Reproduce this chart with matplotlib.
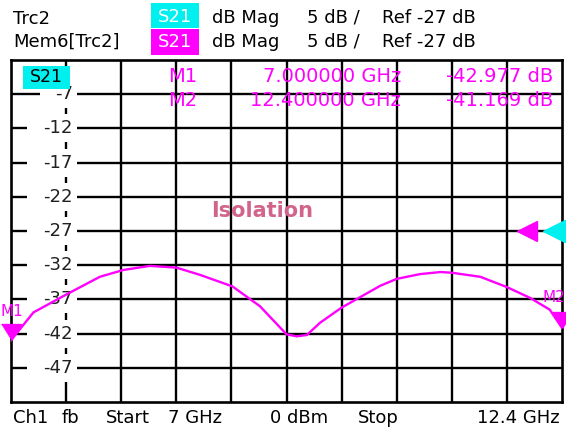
import numpy as np
import matplotlib
matplotlib.use("Agg")
import matplotlib.pyplot as plt
from matplotlib.patches import Rectangle

# trace (GHz, dB)
freq = [7.00, 7.22, 7.54, 7.87, 8.10, 8.36, 8.62, 8.85, 9.17, 9.44, 9.70,
        9.80, 9.90, 10.03, 10.24, 10.62, 10.78, 11.01, 11.21, 11.32, 11.60,
        11.86, 12.09, 12.28, 12.40]
s21 = [-42.98, -38.9, -36.3, -33.7, -32.7, -32.1, -32.35, -33.4, -35.1, -38.0,
       -42.1, -42.4, -42.2, -40.4, -38.2, -35.0, -34.0, -33.3, -33.0, -33.1,
       -33.7, -35.2, -36.8, -38.5, -41.17]

start, stop = 7.0, 12.4
ref_level = -27
per_div = 5
ytick_vals = [-7, -12, -17, -22, -27, -32, -37, -42, -47]
markers = [("M1", 7.0, -42.977), ("M2", 12.4, -41.169)]

W, H = 566, 433
MAG = "#ff00ff"
CYAN = "#00f0f0"
plt.rcParams["font.family"] = "DejaVu Sans"

fig = plt.figure(figsize=(W / 100, H / 100), dpi=100)
L, R, T, B = 11, 562, 60, 402
ax = fig.add_axes([L / W, 1 - B / H, (R - L) / W, (B - T) / H])
ax.set_xlim(start, stop)
ax.set_ylim(ref_level - 5 * per_div, ref_level + 5 * per_div)

xg = np.linspace(start, stop, 11)
yg = np.arange(ref_level - 5 * per_div, ref_level + 5 * per_div + 1, per_div)
for x in xg[1:-1]:
    ax.axvline(x, color="black", lw=1.7, zorder=1)
for y in yg[1:-1]:
    ax.axhline(y, color="black", lw=1.7, zorder=1)
ax.set_xticks([])
ax.set_yticks([])
for s in ax.spines.values():
    s.set_linewidth(1.9)


def px2x(px):
    return start + (px - L) / (R - L) * (stop - start)


def py2y(py):
    top = ref_level + 5 * per_div
    return top - (py - T) / (B - T) * 10 * per_div


# y labels with white backing
for v in ytick_vals:
    txt = f"-{abs(v)}"
    w = 37 if len(txt) == 2 else 50
    x0 = px2x(77 - w)
    ax.add_patch(Rectangle((x0, v - 2.05), px2x(77) - x0, 4.1, fc="white",
                           ec="none", zorder=2))
    ax.text(px2x(73), v, txt, ha="right", va="center", fontsize=13,
            color="#202020", zorder=3)

ax.plot(freq, s21, color=MAG, lw=1.7, zorder=4)

# marker triangles (apex at the trace point)
tri = [(-1, 1.6), (1, 1.6), (0, 0)]
for name, f, v in markers:
    ax.plot([f], [v], marker=tri, ms=23, color=MAG, mec=MAG, clip_on=False,
            zorder=5)
ax.text(px2x(1), py2y(312), "M1", ha="left", va="center", fontsize=11,
        color=MAG, clip_on=False)
ax.text(px2x(565), py2y(297), "M2", ha="right", va="center", fontsize=11,
        color=MAG, clip_on=False)

# reference level arrows
ax.plot([px2x(527)], [ref_level], marker="<", ms=14.5, color=MAG,
        clip_on=False, zorder=5)
ax.plot([px2x(554)], [ref_level], marker="<", ms=16, color=CYAN,
        clip_on=False, zorder=5)

# marker readout
for (name, f, v), py in zip(markers, [77, 101]):
    ax.text(px2x(168), py2y(py), name, ha="left", va="center", fontsize=14,
            color=MAG)
    ax.text(px2x(401), py2y(py), f"{f:.6f} GHz", ha="right", va="center",
            fontsize=14, color=MAG)
    ax.text(px2x(553), py2y(py), f"{v:.3f} dB", ha="right", va="center",
            fontsize=14, color=MAG)

# S21 tag inside the grid
ax.add_patch(Rectangle((px2x(23), py2y(89)), px2x(70) - px2x(23),
                       py2y(66) - py2y(89), fc=CYAN, ec="none", zorder=6,
                       clip_on=False))
ax.text(px2x(46.5), py2y(77), "S21", ha="center", va="center", fontsize=12.5,
        color="black", zorder=7)

ax.text(px2x(262), py2y(211), "Isolation", ha="center", va="center",
        fontsize=15, fontweight="bold", color="#d2648c")


def ftext(px, py, s, **kw):
    fig.text(px / W, 1 - py / H, s, va="center", fontsize=13, **kw)


# header
ftext(13, 19, "Trc2")
ftext(13, 42, "Mem6[Trc2]")
fig.patches.append(Rectangle((151 / W, 1 - 28 / H), 48 / W, 25 / H, fc=CYAN,
                             ec="none", transform=fig.transFigure))
fig.patches.append(Rectangle((151 / W, 1 - 55 / H), 48 / W, 26 / H, fc=MAG,
                             ec="none", transform=fig.transFigure))
ftext(175, 17, "S21", ha="center", color="white")
ftext(175, 42, "S21", ha="center", color="white")
for py in (18, 42):
    ftext(212, py, "dB Mag")
    ftext(307, py, "5 dB /")
    ftext(382, py, "Ref -27 dB")

# footer
ftext(13, 418, "Ch1")
ftext(62, 418, "fb")
ftext(106, 418, "Start")
ftext(168, 418, "7 GHz")
ftext(270, 418, "0 dBm")
ftext(358, 418, "Stop")
ftext(560, 418, "12.4 GHz", ha="right")

fig.savefig("out.png", dpi=100)
